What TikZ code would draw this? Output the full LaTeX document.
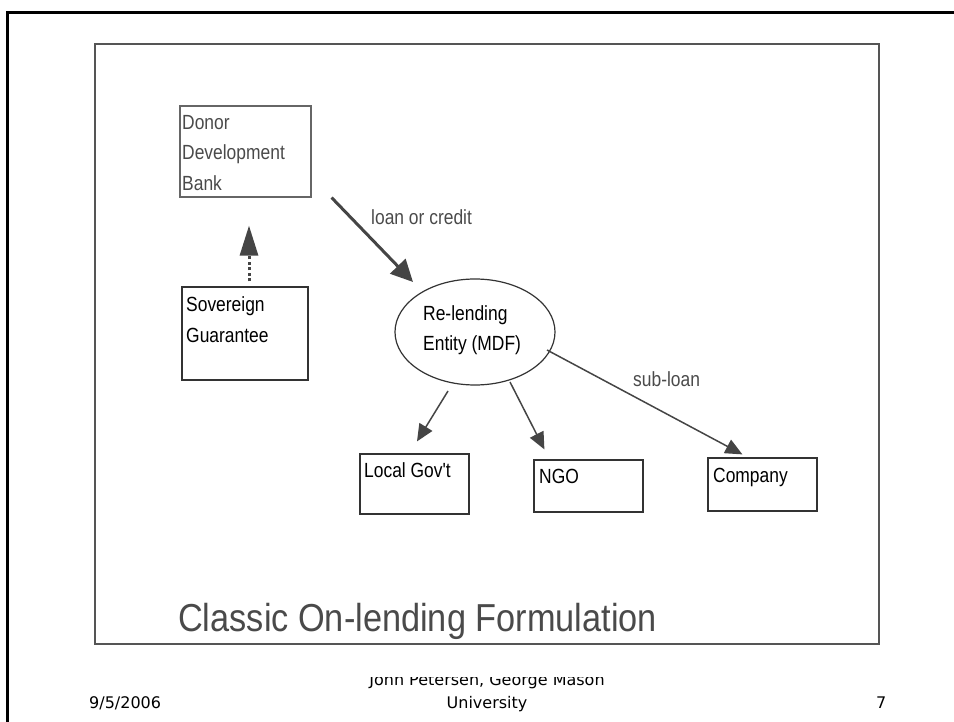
\documentclass[tikz,border=0pt]{standalone}
\usepackage{fontspec}
\setmainfont{Liberation Sans}
\newfontfamily\narrowfont[FakeStretch=0.85]{Liberation Sans}
\newfontfamily\titlefont[FakeStretch=0.88]{Liberation Sans}
\newfontfamily\footfont{DejaVu Sans}
\usetikzlibrary{arrows.meta,shapes.geometric,calc}

\definecolor{framec}{HTML}{000000}
\definecolor{panelc}{HTML}{555555}
\definecolor{boxc}{HTML}{333333}
\definecolor{greyboxc}{HTML}{666666}
\definecolor{arrc}{HTML}{454545}
\definecolor{greytxt}{HTML}{4A4A4A}

\tikzset{
  box/.style={draw=boxc, line width=1.2pt, rectangle, inner sep=0pt},
  lbl/.style={anchor=base west, inner sep=0pt, text=black,
              font=\narrowfont\fontsize{20.5}{24}\selectfont},
  greylbl/.style={lbl, text=greytxt},
  foot/.style={inner sep=0pt, anchor=base, text=black,
               font=\footfont\fontsize{16}{19}\selectfont},
  arr/.style={draw=arrc, line width=1.5pt,
              -{Triangle[length=17pt,width=15pt]}},
  bigarr/.style={draw=arrc, line width=3pt,
                 -{Triangle[length=22pt,width=21pt]}},
  dotarr/.style={draw=arrc, line width=3pt, dash pattern=on 3pt off 2.5pt,
                 -{Triangle[length=30pt,width=18pt]}},
}

\begin{document}
\begin{tikzpicture}[x=1pt,y=-1pt]
\useasboundingbox (0,0) rectangle (954,722);
\clip (0,0) rectangle (954,722);

% slide frame running off the page to the right and bottom
\draw[framec, line width=3pt] (960,13) -- (7.5,13) -- (7.5,730);

% content panel
\draw[panelc, line width=2pt] (95,44) rectangle (879,644);

% boxes
\node[box, draw=greyboxc, minimum width=131pt, minimum height=91pt] (donor) at (245.5,151.5) {};
\node[box, minimum width=126pt, minimum height=93pt] (sov) at (245,333.5) {};
\node[draw=boxc, line width=1.2pt, ellipse, inner sep=0pt,
      minimum width=160pt, minimum height=106pt] (rel) at (475,332) {};
\node[box, minimum width=109pt, minimum height=60pt] (lg) at (414.5,484) {};
\node[box, minimum width=109pt, minimum height=52pt] (ngo) at (588.5,486) {};
\node[box, minimum width=109pt, minimum height=53pt] (comp) at (762.5,484.5) {};

% box texts
\node[greylbl] (donorA) at (182,130) {Donor};
\node[greylbl] (donorB) at (182,160) {Development};
\node[greylbl] (donorC) at (182,191) {Bank};
\node[lbl] (sovA) at (186,312) {Sovereign};
\node[lbl] (sovB) at (186,343) {Guarantee};
\node[lbl] (relA) at (423,320) {Re-lending};
\node[lbl] (relB) at (423,351) {Entity (MDF)};
\node[lbl] (lgT) at (364,477) {Local Gov't};
\node[lbl] (ngoT) at (539,483) {NGO};
\node[lbl] (compT) at (713,482) {Company};

% connectors
\draw[dotarr] ($(sov.north)+(4,-5)$) -- ($(donor.south)+(3.5,28)$);
\draw[bigarr] ($(donor.south east)+(20,0)$) -- ($(rel.center)+(-62,-50)$);
\draw[arr] ($(rel.center)+(-27,59)$) -- ($(lg.north)+(2.5,-12)$);
\draw[arr] ($(rel.center)+(35,50)$) -- ($(ngo.north west)+(11,-10)$);
\draw[arr] ($(rel.center)+(72,18)$) -- ($(comp.north west)+(35,-3)$);

% connector labels
\node[greylbl] (loanT) at (371,225) {loan or credit};
\node[greylbl] (subT) at (633,386) {sub-loan};

% title
\node[anchor=base west, inner sep=0pt, text=greytxt,
      font=\titlefont\fontsize{39}{44}\selectfont] (title) at (178,631)
      {Classic On-lending Formulation};

% footer
\node[foot, anchor=base west] (date) at (89,708) {9/5/2006};
\begin{scope}
  \clip (0,677) rectangle (954,722);
  \node[foot] (authorA) at (487,685) {John Petersen, George Mason};
\end{scope}
\node[foot] (authorB) at (487,708) {University};
\node[foot, anchor=base west] (page) at (876,708) {7};
\end{tikzpicture}
\end{document}
